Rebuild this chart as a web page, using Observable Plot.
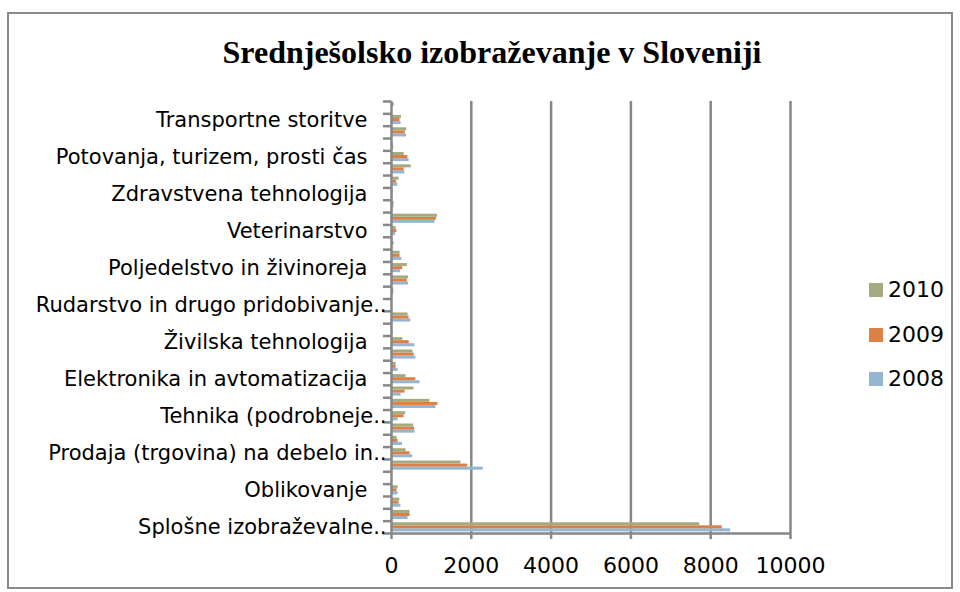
<!DOCTYPE html>
<html>
<head>
<meta charset="utf-8">
<script src="https://cdn.jsdelivr.net/npm/d3@7"></script>
<script src="https://cdn.jsdelivr.net/npm/@observablehq/plot@0.6"></script>
<style>
  html, body { margin: 0; padding: 0; background: #fff; }
  #wrap { position: relative; width: 960px; height: 592px; overflow: hidden; font-family: "DejaVu Sans", sans-serif; }
  #frame { position: absolute; left: 7px; top: 12px; width: 946px; height: 577px; border: 2px solid #8a8a8a; box-sizing: border-box; }
  #title { position: absolute; left: 0; width: 984px; top: 34px; text-align: center; font: bold 32px "Liberation Serif", "Times New Roman", serif; color: #000; }
  #chart { position: absolute; left: 0; top: 0; }
  #legend { position: absolute; left: 869px; top: 0; }
  .item { position: absolute; left: 0; display: flex; align-items: center; white-space: nowrap; font-size: 22px; color: #000; }
  .sw { width: 14px; height: 14px; margin-right: 5px; }
</style>
</head>
<body>
<div id="wrap">
  <div id="frame"></div>
  <div id="chart"></div>
  <div id="title">Srednješolsko izobraževanje v Sloveniji</div>
  <div id="legend"></div>
</div>
<script>
// Categories, bottom to top (only every third is labelled in the chart)
const categories = [
  "Splošne izobraževalne..",
  "Glasba in uprizoritvene umetnosti",
  "Avdiovizualne tehnike in medijska produkcija",
  "Oblikovanje",
  "Umetnostna obrt",
  "Poslovanje in administracija",
  "Prodaja (trgovina) na debelo in..",
  "Tajniška in administrativna dela",
  "Računalništvo",
  "Tehnika (podrobneje..",
  "Strojništvo in obdelava kovin",
  "Elektrotehnika in energetika",
  "Elektronika in avtomatizacija",
  "Kemijsko inženirstvo in procesi",
  "Motorna vozila, ladje in letala",
  "Živilska tehnologija",
  "Tekstil, oblačila, obutev, usnje",
  "Materiali (les, papir, plastika, steklo)",
  "Rudarstvo in drugo pridobivanje..",
  "Arhitektura in urbanizem",
  "Gradbeništvo",
  "Poljedelstvo in živinoreja",
  "Vrtnarstvo",
  "Gozdarstvo",
  "Veterinarstvo",
  "Zdravstvena nega",
  "Dentalna medicina",
  "Zdravstvena tehnologija",
  "Farmacija",
  "Hotelirstvo in gostinstvo",
  "Potovanja, turizem, prosti čas",
  "Šport",
  "Frizerske in kozmetične storitve",
  "Transportne storitve",
  "Varstvo okolja"
];
const labelledIndex = [0, 3, 6, 9, 12, 15, 18, 21, 24, 27, 30, 33];

const years = ["2008", "2009", "2010"];
const v2008 = [8500, 415, 235, 165, 0, 2300, 530, 275, 590, 165, 1115, 240, 715, 165, 610, 585, 50, 485, 10, 33, 430, 225, 260, 30, 105, 1090, 33, 30, 160, 335, 440, 58, 375, 240, 0];
const v2009 = [8290, 465, 190, 140, 0, 1910, 465, 165, 580, 315, 1165, 340, 610, 115, 565, 445, 0, 440, 25, 55, 395, 280, 215, 65, 135, 1125, 58, 35, 130, 317, 410, 42, 345, 215, 0];
const v2010 = [7725, 465, 210, 165, 0, 1740, 365, 140, 555, 355, 965, 565, 365, 115, 540, 285, 0, 415, 15, 60, 425, 400, 215, 40, 117, 1155, 67, 40, 190, 495, 320, 0, 385, 250, 70];
const seriesColors = ["#94B6D2", "#DD8047", "#A5AB81"];
const xTicks = [0, 2000, 4000, 6000, 8000, 10000];

const series = [v2008, v2009, v2010];
const rows = [];
categories.forEach((c, i) => {
  series.forEach((arr, s) => rows.push({i, category: c, year: years[s], s, value: arr[i]}));
});

const pad = 0.13;
const bw = (1 - 2 * pad) / 3;
const gray = "#878787";
const truncated = labelledIndex.filter(i => categories[i].endsWith(".."));
const full = labelledIndex.filter(i => !categories[i].endsWith(".."));

const chart = Plot.plot({
  width: 960,
  height: 592,
  marginLeft: 391,
  marginRight: 170,
  marginTop: 101,
  marginBottom: 59,
  style: {fontFamily: "DejaVu Sans, sans-serif", color: "#000", background: "transparent"},
  x: {type: "linear", domain: [0, 10000], axis: null, label: null},
  y: {type: "linear", domain: [0, categories.length], axis: null, label: null},
  color: {domain: years, range: seriesColors},
  marks: [
    Plot.ruleX(xTicks.filter(d => d > 0), {stroke: gray, strokeWidth: 2.5}),
    Plot.rect(rows, {
      x1: () => 0,
      x2: "value",
      y1: d => d.i + pad + d.s * bw,
      y2: d => d.i + pad + (d.s + 1) * bw,
      fill: "year"
    }),
    Plot.axisX({ticks: xTicks, tickSize: 6, tickPadding: 18, tickFormat: d => String(d), fontSize: 22, stroke: gray, strokeWidth: 2.5, fill: "#000", label: null}),
    Plot.axisY({ticks: d3.range(0, categories.length + 1), tickSize: 8, tickFormat: () => "", stroke: gray, strokeWidth: 2.5, label: null}),
    Plot.axisY({ticks: full.map(i => i + 0.5), tickSize: 0, tickPadding: 24, tickFormat: d => categories[Math.floor(d)], fontSize: 21, fill: "#000", label: null}),
    Plot.axisY({ticks: truncated.map(i => i + 0.5), tickSize: 0, tickPadding: 5, tickFormat: d => categories[Math.floor(d)], fontSize: 21, fill: "#000", label: null}),
    Plot.ruleY([0], {stroke: gray, strokeWidth: 2.5}),
    Plot.ruleX([0], {stroke: gray, strokeWidth: 2.5})
  ]
});
document.getElementById("chart").appendChild(chart);

// Legend (top to bottom: 2010, 2009, 2008)
const legend = document.getElementById("legend");
const legendTops = [277, 322, 366];
[2, 1, 0].forEach((s, k) => {
  const item = document.createElement("div");
  item.className = "item";
  item.style.top = legendTops[k] + "px";
  const sw = document.createElement("span");
  sw.className = "sw";
  sw.style.background = seriesColors[s];
  const t = document.createElement("span");
  t.textContent = years[s];
  item.appendChild(sw);
  item.appendChild(t);
  legend.appendChild(item);
});
</script>
</body>
</html>
